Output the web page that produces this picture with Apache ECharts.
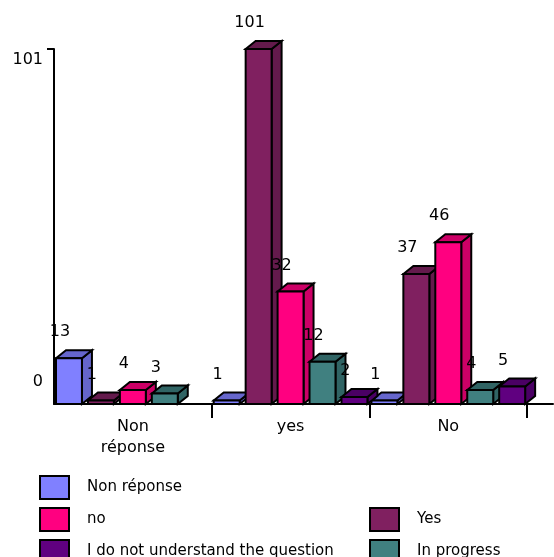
<!DOCTYPE html>
<html>
<head>
<meta charset="utf-8">
<script src="https://cdn.jsdelivr.net/npm/echarts@6/dist/echarts.min.js"></script>
<style>
html,body{margin:0;padding:0;background:#fff;}
#chart{width:554px;height:557px;}
</style>
</head>
<body>
<div id="chart"></div>
<script>
var categories = ['Non\nréponse', 'yes', 'No'];
var yTickLabels = [0, 101];
var nonReponse = [13, 1, 1];
var yesVals = [1, 101, 37];
var noVals = [4, 32, 46];
var inProgress = [3, 12, 4];
var notUnderstand = [null, 2, 5];

var seriesDefs = [
  {name: 'Non réponse', values: nonReponse, front: '#8080FF', side: '#6666CC'},
  {name: 'Yes', values: yesVals, front: '#802060', side: '#641A4C'},
  {name: 'no', values: noVals, front: '#FF0080', side: '#CC0066'},
  {name: 'In progress', values: inProgress, front: '#408080', side: '#306464'},
  {name: 'I do not understand the question', values: notUnderstand, front: '#600080', side: '#4A0064'}
];

var FONT = '"DejaVu Sans", sans-serif';

function makeRender(slot, front, side) {
  return function (params, api) {
    var v = api.value(1);
    if (v == null || isNaN(v)) return null;
    var k = api.value(0);
    var base = api.coord([k, 0]);
    var band = api.size([1, 0])[0];
    var unit = band / 158;
    var left = base[0] + 2 * unit + slot * 32 * unit;
    var w = 26 * unit;
    var bottom = base[1];
    var top = api.coord([k, v])[1];
    var dx = 10, dy = 8;
    var stroke = {stroke: '#000', lineWidth: 2, lineJoin: 'miter'};
    return {
      type: 'group',
      children: [
        {type: 'polygon', shape: {points: [[left + w, top], [left + w + dx, top - dy], [left + w + dx, bottom - dy], [left + w, bottom]]},
          style: Object.assign({fill: side}, stroke)},
        {type: 'polygon', shape: {points: [[left, top], [left + dx, top - dy], [left + w + dx, top - dy], [left + w, top]]},
          style: Object.assign({fill: side}, stroke)},
        {type: 'rect', shape: {x: left, y: top, width: w, height: bottom - top},
          style: Object.assign({fill: front}, stroke)},
        {type: 'text', z2: 100, style: {x: left + w / 2 - 9, y: top - 26, text: String(v), align: 'center', verticalAlign: 'middle',
          font: '16px ' + FONT, fill: '#000'}}
      ]
    };
  };
}

var series = seriesDefs.map(function (d, i) {
  return {
    name: d.name,
    type: 'custom',
    clip: false,
    itemStyle: {color: d.front},
    renderItem: makeRender(i, d.front, d.side),
    data: d.values.map(function (v, k) { return [k, v == null ? '-' : v]; })
  };
});

function legendRow(left, top, names) {
  return {
    orient: 'horizontal', left: left, top: top, padding: 0, itemWidth: 29, itemHeight: 23, itemGap: 0,
    icon: 'rect', selectedMode: false,
    itemStyle: {borderColor: '#000', borderWidth: 2},
    textStyle: {fontSize: 15, fontFamily: FONT, color: '#000', padding: [0, 0, 0, 13]},
    data: names
  };
}

var chart = echarts.init(document.getElementById('chart'), null, {renderer: 'canvas'});
chart.setOption({
  animation: false,
  backgroundColor: '#fff',
  textStyle: {fontFamily: FONT, color: '#000'},
  grid: {left: 54, top: 49, right: 1, bottom: 153, containLabel: false},
  xAxis: {
    type: 'value', min: 0, max: 3.164, interval: 1,
    axisLine: {show: true, onZero: false, lineStyle: {color: '#000', width: 2}},
    axisTick: {show: true, length: 14, customValues: [1, 2, 3], lineStyle: {color: '#000', width: 2}},
    axisLabel: {
      customValues: [0.5, 1.5, 2.5], margin: 12, fontSize: 16, lineHeight: 21, color: '#000', fontFamily: FONT,
      formatter: function (v) { var i = Math.floor(v); return (Math.abs(v - i - 0.5) < 0.01 && categories[i]) ? categories[i] : ''; }
    },
    splitLine: {show: false}
  },
  yAxis: {
    type: 'value', min: 0, max: 101, interval: 101,
    axisLine: {show: true, lineStyle: {color: '#000', width: 2}},
    axisTick: {show: true, length: 7, customValues: [101], lineStyle: {color: '#000', width: 2}},
    axisLabel: {
      customValues: yTickLabels, margin: 11, color: '#000', fontSize: 16, fontFamily: FONT,
      formatter: function (v) { return v === 0 ? '{b|' + v + '}' : '{t|' + v + '}'; },
      rich: {
        t: {fontSize: 16, fontFamily: FONT, color: '#000', padding: [22, 0, 0, 0]},
        b: {fontSize: 16, fontFamily: FONT, color: '#000', padding: [0, 0, 44, 0]}
      }
    },
    splitLine: {show: false}
  },
  legend: [
    legendRow(39, 475, ['Non réponse']),
    legendRow(39, 507, ['no']),
    legendRow(39, 539, ['I do not understand the question']),
    legendRow(369, 507, ['Yes']),
    legendRow(369, 539, ['In progress'])
  ],
  series: series
});
</script>
</body>
</html>
